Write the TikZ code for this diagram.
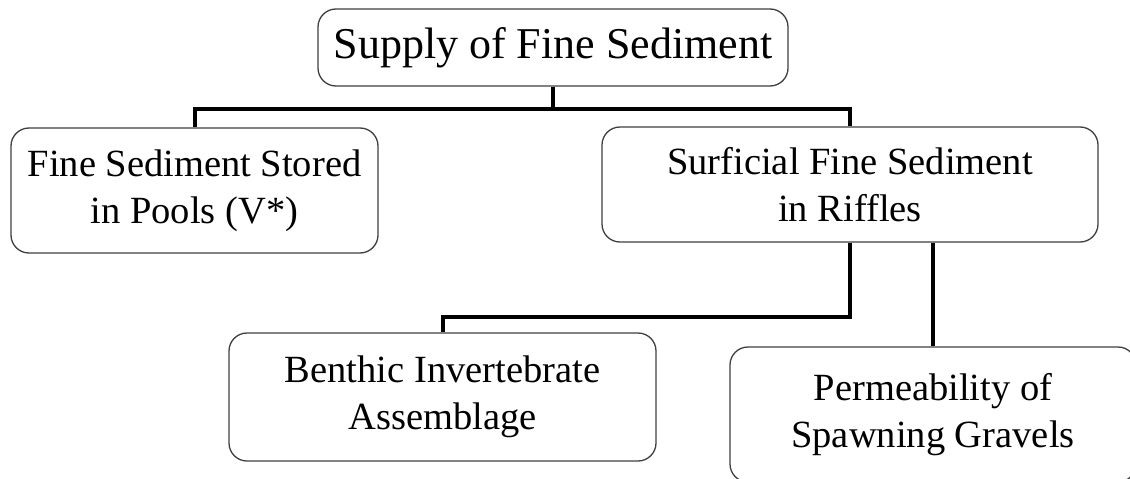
\documentclass[tikz,border=0pt]{standalone}
\usepackage{fontspec}
\setmainfont{Liberation Serif}
\usetikzlibrary{positioning}

\begin{document}
\begin{tikzpicture}[x=1pt,y=-1pt,
    box/.style={draw=black!75, line width=1.3pt, rounded corners=18pt, align=center,
      inner sep=0pt, font=\fontsize{38.5}{47}\selectfont},
    link/.style={line width=4pt}]
  \useasboundingbox[fill=white] (0,0) rectangle (1130,479);

  \node[box, minimum width=470pt, minimum height=77pt,
        font=\fontsize{44}{52}\selectfont] (supply) at (553,47.5) {Supply of Fine Sediment};

  \node[box, minimum width=367pt, minimum height=125pt] (pools)    at (194.5,190.5) {Fine Sediment Stored\\in Pools (V*)};
  \node[box, minimum width=496pt, minimum height=115pt] (riffles)  at (850,184.5)   {Surficial Fine Sediment\\in Riffles};
  \node[box, minimum width=427pt, minimum height=128pt] (benthic)  at (442.5,397)   {Benthic Invertebrate\\Assemblage};
  \node[box, minimum width=406pt, minimum height=135pt] (perm)     at (933,414.5)   {Permeability of\\Spawning Gravels};

  \draw[link] (supply.south) -- ++(0,22) -| (pools.north);
  \draw[link] (supply.south) -- ++(0,22) -| (riffles.north);
  \draw[link] (riffles.south) -- ++(0,74) -| (benthic.north);
  \draw[link] (perm.north) -- (perm.north |- riffles.south);
\end{tikzpicture}
\end{document}
